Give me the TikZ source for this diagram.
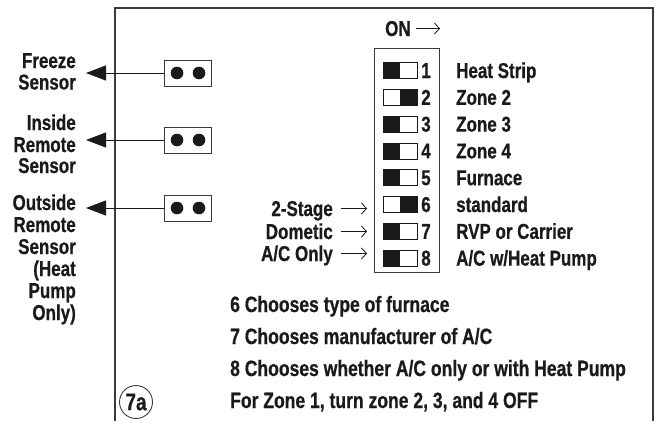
\documentclass[tikz,border=0pt]{standalone}
\usepackage{fontspec}
\setmainfont{Liberation Sans}[FakeStretch=0.79, BoldFeatures={FakeBold=0.6}]
\usetikzlibrary{arrows.meta}
\definecolor{ink}{HTML}{1A1A1A}
\definecolor{rule}{HTML}{3A3A3A}
\begin{document}
\begin{tikzpicture}[x=1pt,y=-1pt,
  txt/.style={font=\bfseries\fontsize{21.5}{24}\selectfont, inner sep=0pt, text=ink},
  note/.style={font=\bfseries\fontsize{22.2}{24}\selectfont, inner sep=0pt, text=ink},
  frameline/.style={draw=rule, line width=1.1pt},
  jack/.style={draw=rule, line width=0.8pt, minimum width=47pt, minimum height=26pt, inner sep=0pt},
  dot/.style={fill=ink},
  sensorarrow/.style={draw=ink, line width=1pt, -{Triangle[length=20pt,width=15pt]}},
  thinarrow/.style={draw=ink, line width=0.8pt, -{Straight Barb[length=5pt,width=11pt]}},
  dipbox/.style={draw=rule, line width=1pt, minimum width=65pt, minimum height=224pt, inner sep=0pt},
  swbox/.style={draw=ink, line width=0.8pt, minimum width=34pt, minimum height=16pt, inner sep=0pt},
  tagcircle/.style={circle, draw=rule, line width=0.9pt, minimum size=33pt, inner sep=0pt,
     font=\bfseries\fontsize{24}{26}\selectfont, text=ink}
]
\useasboundingbox (0,0) rectangle (661,421);
\fill[white] (0,0) rectangle (661,421);

% frame
\draw[frameline] (115,421) -- (115,8) -- (653,8) -- (653,421);

% jacks
\foreach \n/\y in {f/73, i/140, o/208} {
  \node[jack] (j\n) at (187.5,\y) {};
  \fill[dot] (177,\y) circle (6.3pt);
  \fill[dot] (199,\y) circle (6.3pt);
}
\coordinate (af) at (86,73);
\coordinate (ai) at (86,140);
\coordinate (ao) at (86,208);
\draw[sensorarrow] (jf.west) -- (af);
\draw[sensorarrow] (ji.west) -- (ai);
\draw[sensorarrow] (jo.west) -- (ao);

% left labels
\node[txt, anchor=base east] (lf1) at (76,68) {Freeze};
\node[txt, anchor=base east] (lf2) at (76,89.5) {Sensor};
\node[txt, anchor=base east] (li1) at (76,130) {Inside};
\node[txt, anchor=base east] (li2) at (76,152) {Remote};
\node[txt, anchor=base east] (li3) at (76,173) {Sensor};
\node[txt, anchor=base east] (lo1) at (76,210) {Outside};
\node[txt, anchor=base east] (lo2) at (76,232) {Remote};
\node[txt, anchor=base east] (lo3) at (76,254) {Sensor};
\node[txt, anchor=base east] (lo4) at (76,276) {(Heat};
\node[txt, anchor=base east] (lo5) at (76,298) {Pump};
\node[txt, anchor=base east] (lo6) at (76,320) {Only)};

% ON arrow
\node[txt, anchor=base west] (on) at (385,36) {ON};
\coordinate (ontip) at (440,28.5);
\draw[thinarrow] ([shift={(5,-7.5)}]on.base east) -- (ontip);

% DIP switch block
\node[dipbox] (dip) at (406.5,160.5) {};
\foreach \i/\side/\lab in {1/L/{Heat Strip}, 2/R/{Zone 2}, 3/L/{Zone 3}, 4/L/{Zone 4},
                           5/L/{Furnace}, 6/R/{standard}, 7/L/{RVP or Carrier}, 8/L/{A/C w/Heat Pump}} {
  \pgfmathsetmacro{\yy}{70.5+(\i-1)*26.8}
  \node[swbox] (s\i) at (400,\yy) {};
  \if L\side
    \fill[ink] (s\i.north west) rectangle (s\i.south);
  \else
    \fill[ink] (s\i.north) rectangle (s\i.south east);
  \fi
  \node[txt, anchor=base] (n\i) at (426,\yy+7.5) {\i};
  \node[txt, anchor=base west] (l\i) at (456,\yy+7.5) {\lab};
}

% left side labels for 6,7,8
\node[txt, anchor=base east] (m6) at (333,216) {2-Stage};
\node[txt, anchor=base east] (m7) at (333,239) {Dometic};
\node[txt, anchor=base east] (m8) at (333,261) {A/C Only};
\coordinate (t6) at (367,208.5);
\coordinate (t7) at (367,231.5);
\coordinate (t8) at (367,253.5);
\draw[thinarrow] ([shift={(8,-7.5)}]m6.base east) -- (t6);
\draw[thinarrow] ([shift={(8,-7.5)}]m7.base east) -- (t7);
\draw[thinarrow] ([shift={(8,-7.5)}]m8.base east) -- (t8);

% notes
\node[note, anchor=base west] (b1) at (230,312) {6 Chooses type of furnace};
\node[note, anchor=base west] (b2) at (230,344) {7 Chooses manufacturer of A/C};
\node[note, anchor=base west] (b3) at (230,376) {8 Chooses whether A/C only or with Heat Pump};
\node[note, anchor=base west] (b4) at (230,408) {For Zone 1, turn zone 2, 3, and 4 OFF};

% tag
\node[tagcircle] (tag) at (136,402) {7a};
\end{tikzpicture}
\end{document}
